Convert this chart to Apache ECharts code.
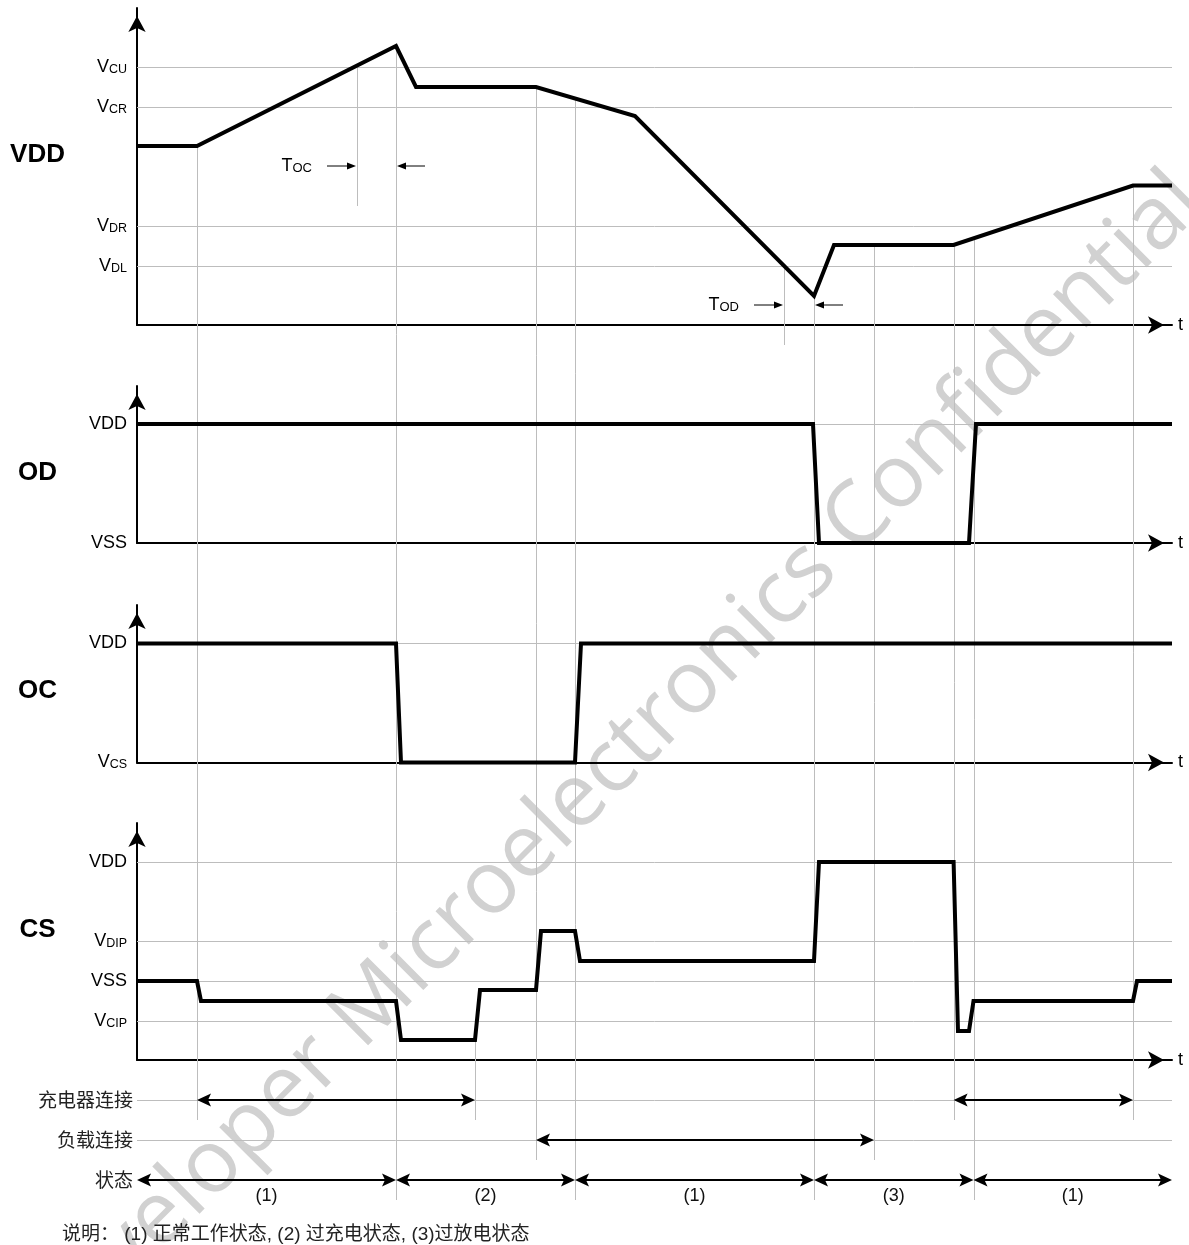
<!DOCTYPE html>
<html><head><meta charset="utf-8">
<script src="https://cdn.jsdelivr.net/npm/echarts@6/dist/echarts.min.js"></script>
<style>html,body{margin:0;padding:0;background:#fff}#c{width:1189px;height:1245px}</style>
</head><body><div id="c"></div>
<script>
// ---------- data (time t in arbitrary units, levels in arbitrary voltage units) ----------
const tMax = 1035;
// VDD panel
const vddLevels = [['V','CU',12.9],['V','CR',10.9],['V','DR',4.95],['V','DL',2.95]];
const vddT = [0,60,259,279,399,498,677,697,816.6,996,1035];
const vddV = [8.95,8.95,13.95,11.9,11.9,10.45,1.45,4.0,4.0,6.97,6.97];
// OD panel
const odLevels = [['VDD','',5.95],['VSS','',0]];
const odT = [0,676,682,832,839,1035];
const odV = [5.95,5.95,0,0,5.95,5.95];
// OC panel
const ocLevels = [['VDD','',5.95],['V','CS',0]];
const ocT = [0,259,264,438,444,1035];
const ocV = [5.95,5.95,0,0,5.95,5.95];
// CS panel
const csLevels = [['VDD','',9.9],['V','DIP',5.95],['VSS','',3.95],['V','CIP',1.95]];
const csT = [0,60,64,259,264,338,343,399,404,438,443,677,682,816.6,821,832,836.5,996,1000,1035];
const csV = [3.95,3.95,2.95,2.95,1.0,1.0,3.5,3.5,6.45,6.45,4.95,4.95,9.9,9.9,1.45,1.45,2.95,2.95,3.95,3.95];
// bottom rows
const rowNames = ['充电器连接','负载连接','状态'];
const rowLevels = [2.5,1.5,0.5];
const chargerSpans = [[60,338],[816.6,996]];
const loadSpans = [[399,737]];
const stateSpans = [[0,259],[259,438],[438,677],[677,836.5],[836.5,1035]];
const stateLabels = ['(1)','(2)','(1)','(3)','(1)'];
// delay markers in the VDD panel
const delayArrows = [[190,219,7.95],[288,260,7.95],[617,646,1.0],[706,678,1.0]];
const delayLabels = [[175,7.95],[602,1.0]];
const delaySubs = ['OC','OD'];
const delayGuides = [[220,12.9,5.95],[647,2.95,-1.0]];
// long guides: [t, panel, start level, end level in bottom rows]
const guides = [[60,0,8.95,2],[259,0,13.95,0],[338,3,1.0,2],[399,0,11.9,1],[438,0,11.33,0],
  [677,0,1.45,0],[737,0,4.0,1],[816.6,0,4.0,2],[836.5,0,4.33,0],[996,0,6.97,2]];
const panelTitles = ['VDD','OD','OC','CS'];
const noteText = '说明： (1) 正常工作状态, (2) 过充电状态, (3)过放电状态';
const watermark = 'Developer Microelectronics Confidential';

// ---------- styling ----------
const F = 'Liberation Sans, Arial, sans-serif';
const CJK = 'Noto Sans CJK SC, sans-serif';
const GRID = '#bdbdbd';
const L = 137, W = 1035;
const grids = [
  {top:8, height:317, max:15.85},
  {top:386, height:157, max:7.85},
  {top:605, height:157.5, max:7.875},
  {top:823, height:237, max:11.85},
  {top:1080, height:120, max:3}
];
const levelRich = {
  a:{fontSize:18, lineHeight:18, verticalAlign:'bottom', fontFamily:F, color:'#000'},
  b:{fontSize:12.5, lineHeight:12.5, verticalAlign:'bottom', fontFamily:F, color:'#000'},
  c:{fontSize:19, lineHeight:22, fontFamily:CJK, color:'#222'}
};
function levelSeries(idx, levels, cjk) {
  return {type:'line', xAxisIndex:idx, yAxisIndex:idx, data:[], silent:true, z:1,
    markLine:{silent:true, symbol:'none', animation:false, z:1,
      lineStyle:{color:GRID, width:1, type:'solid'},
      label:{show:true, position:'start', distance: cjk ? 4 : 10, rich:levelRich},
      emphasis:{disabled:true},
      data: levels.map(l => {
        const v = l[l.length-1];
        const txt = cjk ? `{c|${l[0]}}` : (l[1] ? `{a|${l[0]}}{b|${l[1]}}` : `{a|${l[0]}}`);
        const hide = (v === 0) || (cjk && l[0] === '状态');
        return {yAxis:v, label:{formatter:txt}, lineStyle:{color: hide ? 'rgba(0,0,0,0)' : GRID}};
      })}};
}
function trace(idx, T, V) {
  return {type:'line', xAxisIndex:idx, yAxisIndex:idx, data:T.map((t,i)=>[t,V[i]]),
    showSymbol:false, symbol:'none', clip:false, z:5, silent:true,
    lineStyle:{color:'#000', width:4, join:'miter', cap:'butt'}};
}
function head(tip, dir, len, half, notch) {
  const bx = tip[0]-dir*len, nx = tip[0]-dir*(len-notch);
  return {type:'polygon', shape:{points:[[tip[0],tip[1]],[bx,tip[1]-half],[nx,tip[1]],[bx,tip[1]+half]]}, style:{fill:'#000'}};
}
function spanSeries(spans, level, labels) {
  return {type:'custom', xAxisIndex:4, yAxisIndex:4, clip:false, silent:true, z:5,
    data: spans.map(s => [s[0], s[1], level]), encode:{x:[0,1], y:2},
    renderItem(params, api) {
      const a = api.coord([api.value(0), api.value(2)]);
      const b = api.coord([api.value(1), api.value(2)]);
      const ch = [
        {type:'line', shape:{x1:a[0]+8, y1:a[1], x2:b[0]-8, y2:b[1]}, style:{stroke:'#000', lineWidth:2}},
        head(b, 1, 14, 6.5, 3), head(a, -1, 14, 6.5, 3)
      ];
      if (labels) ch.push({type:'text', x:(a[0]+b[0])/2, y:a[1]+16,
        style:{text:labels[params.dataIndex], fontSize:18, fontFamily:F, fill:'#111', align:'center', verticalAlign:'middle'}});
      return {type:'group', children:ch};
    }};
}

const xAxes = grids.map((g,i) => ({gridIndex:i, type:'value', min:0, max:tMax, show: i<4,
  axisLine:{show:true, lineStyle:{color:'#000', width:2}, symbol:['none','arrow'], symbolSize:[13,16], symbolOffset:[0,-8]},
  axisTick:{show:false}, axisLabel:{show:false}, splitLine:{show:false},
  name:'t', nameLocation:'end', nameGap:6, nameTextStyle:{fontSize:18, fontFamily:F, color:'#000'}}));
const yAxes = grids.map((g,i) => ({gridIndex:i, type:'value', min:0, max:g.max, show: i<4,
  axisLine:{show:true, lineStyle:{color:'#000', width:2}, symbol:['none','arrow'], symbolSize:[13,16], symbolOffset:[0,-8]},
  axisTick:{show:false}, axisLabel:{show:false}, splitLine:{show:false}}));

const series = [
  levelSeries(0, vddLevels), levelSeries(1, odLevels), levelSeries(2, ocLevels), levelSeries(3, csLevels),
  levelSeries(4, rowNames.map((n,i)=>[n, rowLevels[i]]), true),
  trace(0, vddT, vddV), trace(1, odT, odV), trace(2, ocT, ocV), trace(3, csT, csV),
  spanSeries(chargerSpans, rowLevels[0]), spanSeries(loadSpans, rowLevels[1]), spanSeries(stateSpans, rowLevels[2], stateLabels),
  {type:'custom', xAxisIndex:0, yAxisIndex:0, clip:false, silent:true, z:5, data:delayArrows, encode:{x:[0,1], y:2},
    renderItem(params, api) {
      const a = api.coord([api.value(0), api.value(2)]);
      const b = api.coord([api.value(1), api.value(2)]);
      const dir = b[0] > a[0] ? 1 : -1;
      return {type:'group', children:[
        {type:'line', shape:{x1:a[0], y1:a[1], x2:b[0]-dir*4, y2:b[1]}, style:{stroke:'#000', lineWidth:1}},
        head(b, dir, 9, 3.5, 0)]};
    }},
  {type:'custom', xAxisIndex:0, yAxisIndex:0, clip:false, silent:true, z:5, data:delayLabels, encode:{x:0, y:1},
    renderItem(params, api) {
      const p = api.coord([api.value(0), api.value(1)]);
      return {type:'text', x:p[0], y:p[1], style:{text:`{a|T}{b|${delaySubs[params.dataIndex]}}`,
        rich:{a:{fontSize:18, lineHeight:18, verticalAlign:'bottom', fontFamily:F, fill:'#000'},
              b:{fontSize:13, lineHeight:13, verticalAlign:'bottom', fontFamily:F, fill:'#000'}},
        align:'right', verticalAlign:'middle'}};
    }},
  {type:'custom', xAxisIndex:0, yAxisIndex:0, clip:false, silent:true, z:1, data:delayGuides, encode:{x:0, y:[1,2]},
    renderItem(params, api) {
      const a = api.coord([api.value(0), api.value(1)]);
      const b = api.coord([api.value(0), api.value(2)]);
      const x = Math.round(a[0]) + 0.5;
      return {type:'line', shape:{x1:x, y1:a[1], x2:x, y2:b[1]}, style:{stroke:GRID, lineWidth:1}};
    }}
];

const chart = echarts.init(document.getElementById('c'), null, {renderer:'canvas'});
chart.setOption({
  animation:false, backgroundColor:'#fff',
  grid: grids.map(g => ({left:L, width:W, top:g.top, height:g.height})),
  xAxis:xAxes, yAxis:yAxes, series:series
});

// cross-panel guide lines and free text
const els = [];
els.push({type:'text', x:610, y:768, rotation:0.785, z:0, silent:true,
  style:{text:watermark, fontSize:88, fontFamily:'Open Sans, sans-serif', fill:'#d1d1d1', align:'center', verticalAlign:'middle'}});
guides.forEach(([t, panel, top, end]) => {
  const p0 = chart.convertToPixel({xAxisIndex:panel, yAxisIndex:panel}, [t, top]);
  const p1 = chart.convertToPixel({xAxisIndex:4, yAxisIndex:4}, [t, end]);
  const x = Math.round(p0[0]) + 0.5;
  els.push({type:'line', z:1, silent:true, shape:{x1:x, y1:p0[1], x2:x, y2:p1[1]}, style:{stroke:GRID, lineWidth:1}});
});
const titleY = [155, 473, 691, 930];
panelTitles.forEach((t,i) => els.push({type:'text', x:37.5, y:titleY[i], z:10, silent:true,
  style:{text:t, fontSize:26, fontWeight:'bold', fontFamily:F, fill:'#000', align:'center', verticalAlign:'middle'}}));
els.push({type:'text', x:62, y:1235, z:10, silent:true,
  style:{text:noteText, fontSize:19, fontFamily:'Liberation Sans, Noto Sans CJK SC, sans-serif', fill:'#222', align:'left', verticalAlign:'middle'}});
chart.setOption({graphic:{elements:els}});
</script>
</body></html>
